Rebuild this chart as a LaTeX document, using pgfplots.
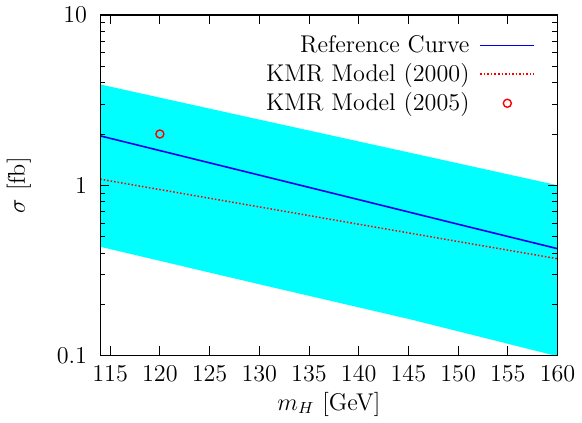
\documentclass[border=0pt]{standalone}
\usepackage{pgfplots}
\pgfplotsset{compat=1.18}
\usepgfplotslibrary{fillbetween}
\definecolor{bandcyan}{RGB}{0,255,255}
\definecolor{lineblue}{RGB}{0,0,240}

\begin{document}
\begin{tikzpicture}
\begin{axis}[
    scale only axis,
    width=227pt, height=169pt,
    ymode=log,
    xmin=114, xmax=160,
    ymin=0.1, ymax=10,
    xtick={115,120,...,160},
    ytick={0.1,1,10},
    yticklabels={0.1,1,10},
    minor ytick={0.2,0.3,0.4,0.5,0.6,0.7,0.8,0.9,2,3,4,5,6,7,8,9},
    tick align=inside,
    major tick length=4.5pt,
    minor tick length=2.5pt,
    tick style={black, thin},
    axis line style={black, semithick},
    font=\large,
    yticklabel style={xshift=-3pt},
    xticklabel style={yshift=-1.5pt},
    xlabel={$m_H$ [GeV]},
    ylabel={$\sigma$ [fb]},
    xlabel style={yshift=1.5pt},
    ylabel style={yshift=6pt},
    legend style={draw=none, fill=none, at={(0.965,0.965)}, anchor=north east,
        row sep=0pt, font=\large,
        /tikz/every odd column/.append style={column sep=3pt}},
    legend cell align=right,
    legend plot pos=right,
    legend image code/.code={
        \draw[mark repeat=2, mark phase=2, #1]
        plot coordinates {(0cm,0cm) (0.47cm,0cm) (0.94cm,0cm)};
    },
    axis on top,
]
\addplot[name path=upper, draw=none, forget plot] coordinates {
    (114,3.91) (130,2.43) (145,1.56) (160,1.00)
};
\addplot[name path=lower, draw=none, forget plot] coordinates {
    (114,0.435) (130,0.262) (145,0.164) (160,0.099)
};
\addplot[fill=bandcyan, draw=none, forget plot] fill between[of=upper and lower];

\addplot[lineblue, line width=0.8pt] coordinates {
    (114,1.95) (120,1.598) (130,1.147) (140,0.823) (150,0.590) (160,0.424)
};
\addlegendentry{Reference Curve}

\addplot[red, densely dotted, line width=0.75pt] coordinates {
    (114,1.085) (120,0.943) (130,0.746) (140,0.590) (150,0.467) (160,0.370)
};
\addlegendentry{KMR Model (2000)}

\addplot[red, only marks, mark=o, mark size=2pt, mark options={line width=0.7pt}] coordinates {
    (120,2.0)
};
\addlegendentry{KMR Model (2005)}
\end{axis}
\end{tikzpicture}
\end{document}
